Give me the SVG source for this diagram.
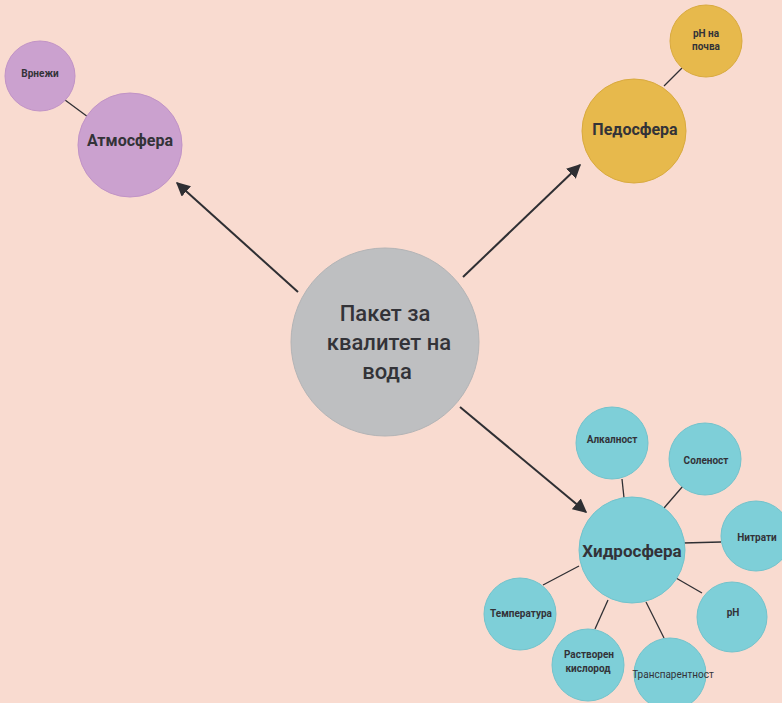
<svg xmlns="http://www.w3.org/2000/svg" width="782" height="703" viewBox="0 0 782 703">
<style>
.bg{fill:#f9dbd0}
.atm{fill:#cba1cf;stroke:#c193c6;stroke-width:1}
.ped{fill:#e7b94c;stroke:#d9aa3e;stroke-width:1}
.cen{fill:#bebfc1;stroke:#b3b4b6;stroke-width:1}
.hyd{fill:#7ecfd8;stroke:#72c3cc;stroke-width:1}
.ln{stroke:#2f2f33;stroke-width:1.3;fill:none}
.ar{stroke:#2f2f33;stroke-width:2;fill:none}
text{font-family:Roboto,"Liberation Sans",sans-serif;fill:#333338;text-anchor:middle;font-weight:bold}
.big{font-size:16px}
.sm{font-size:10px}
.ctr{font-size:22px;font-weight:500}
</style>
<defs>
<marker id="ah" viewBox="0 0 10 10" refX="9" refY="5" markerWidth="7" markerHeight="7" markerUnits="userSpaceOnUse" orient="auto">
<path d="M0,0 L10,5 L0,10 z" fill="#2f2f33"/>
</marker>
<marker id="ahb" viewBox="0 0 10 10" refX="9" refY="5" markerWidth="14" markerHeight="14" markerUnits="userSpaceOnUse" orient="auto">
<path d="M0,0 L10,5 L0,10 z" fill="#2f2f33"/>
</marker>
</defs>
<rect class="bg" x="0" y="0" width="782" height="703"/>
<g id="connectors">
<line class="ar" x1="298" y1="292" x2="177" y2="183" marker-end="url(#ahb)"/>
<line class="ar" x1="463" y1="277" x2="580" y2="165" marker-end="url(#ahb)"/>
<line class="ar" x1="460" y1="407" x2="586" y2="512" marker-end="url(#ahb)"/>
<line class="ln" x1="65" y1="100" x2="88" y2="117"/>
<line class="ln" x1="682" y1="68" x2="664" y2="86"/>
<line class="ln" x1="622" y1="479" x2="624" y2="498"/>
<line class="ln" x1="683" y1="486" x2="664" y2="508"/>
<line class="ln" x1="683" y1="543" x2="721" y2="542"/>
<line class="ln" x1="676" y1="578" x2="702" y2="593"/>
<line class="ln" x1="646" y1="602" x2="664" y2="638"/>
<line class="ln" x1="608" y1="600" x2="595" y2="629"/>
<line class="ln" x1="579" y1="566" x2="543" y2="585"/>
</g>
<g id="center"><circle class="cen" cx="385" cy="342" r="94"/>
<text class="ctr" x="385" y="321">Пакет за</text>
<text class="ctr" x="389" y="350">квалитет на</text>
<text class="ctr" x="387" y="379">вода</text></g>
<g id="atmosfera"><circle class="atm" cx="130" cy="145" r="52"/><text class="big" x="130" y="146">Атмосфера</text></g>
<g id="vrnezhi"><circle class="atm" cx="40" cy="76" r="35"/><text class="sm" x="40" y="77">Врнежи</text></g>
<g id="pedosfera"><circle class="ped" cx="634" cy="131" r="52"/><text class="big" x="635" y="135">Педосфера</text></g>
<g id="phpocva"><circle class="ped" cx="706" cy="41" r="36"/><text class="sm" x="706" y="37">pH на</text><text class="sm" x="706" y="50">почва</text></g>
<g id="hidrosfera"><circle class="hyd" cx="632" cy="550" r="53"/><text x="632" y="557" style="font-size:17px">Хидросфера</text></g>
<g id="alkalnost"><circle class="hyd" cx="612" cy="443" r="36"/><text class="sm" x="612" y="443">Алкалност</text></g>
<g id="solenost"><circle class="hyd" cx="705" cy="459" r="36"/><text class="sm" x="706" y="464">Соленост</text></g>
<g id="nitrati"><circle class="hyd" cx="756" cy="536" r="35"/><text class="sm" x="757" y="541">Нитрати</text></g>
<g id="ph"><circle class="hyd" cx="732" cy="617" r="35"/><text class="sm" x="733" y="616">pH</text></g>
<g id="transparentnost"><circle class="hyd" cx="670" cy="674" r="36"/><text class="sm" x="673" y="678" style="font-weight:normal">Транспарентност</text></g>
<g id="rastvoren"><circle class="hyd" cx="588" cy="665" r="36"/><text class="sm" x="589" y="658">Растворен</text><text class="sm" x="588" y="672">кислород</text></g>
<g id="temperatura"><circle class="hyd" cx="520" cy="614" r="36"/><text class="sm" x="521" y="617">Температура</text></g>
</svg>
